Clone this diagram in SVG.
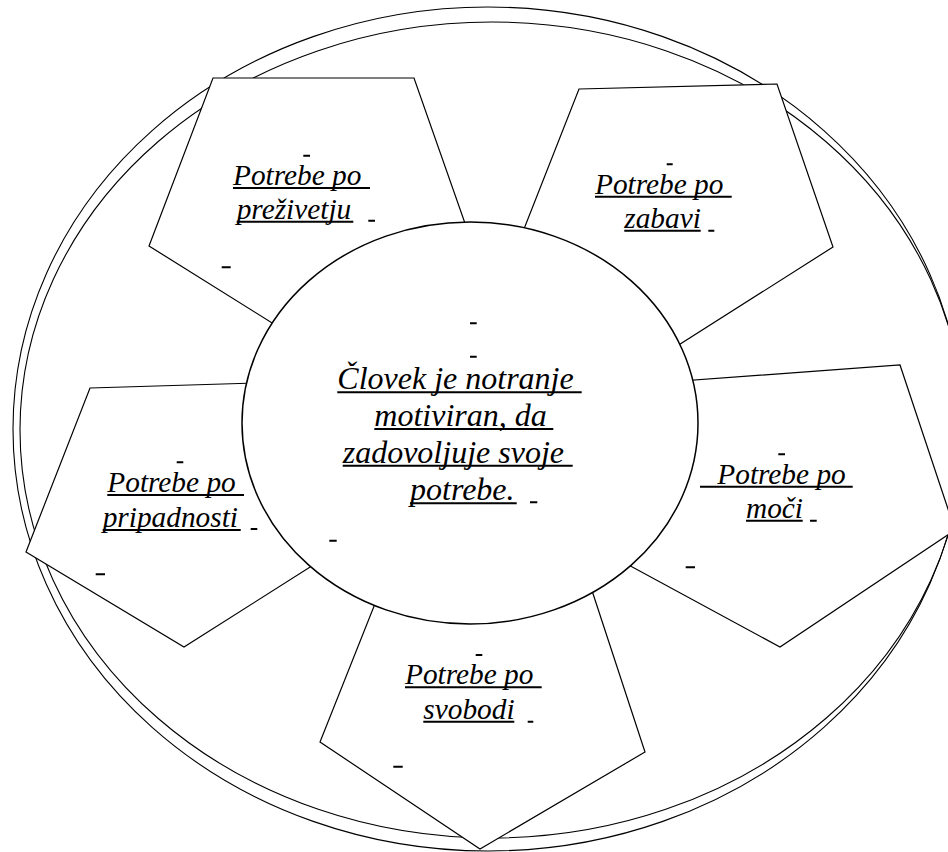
<svg xmlns="http://www.w3.org/2000/svg" width="948" height="852" viewBox="0 0 948 852">
<style>
.ring{fill:none;stroke:#000;stroke-width:1.1}
.pent{fill:#fff;stroke:#000;stroke-width:1.2;stroke-linejoin:miter}
.core{fill:#fff;stroke:#000;stroke-width:1.5}
text{font-family:'Liberation Serif','Times New Roman',serif;font-style:italic;fill:#000}
.s{font-size:29.33px}
.b{font-size:32px}
.ul{stroke:#000;stroke-width:2;fill:none}
</style>
<rect width="948" height="852" fill="#fff"/>
<g id="rings">
<ellipse class="ring" cx="488" cy="429" rx="475" ry="422"/>
<ellipse class="ring" cx="492" cy="430" rx="472" ry="408"/>
</g>
<g id="connectors"></g>
<g id="node-prezivetju">
<polygon class="pent" points="213,78 414,78 480,266 333,361 149,246"/>
<text class="s" x="233" y="185">Potrebe po</text>
<text class="s" x="236.7" y="218.7">preživetju</text>
<path class="ul" d="M233 188H370M236.7 221.7H353.3M303.3 155.7H310M368.3 220.7H375M221.7 267.3H230.7"/>
</g>
<g id="node-zabavi">
<polygon class="pent" points="579,89 777,84 833,247 600,395 500,290"/>
<text class="s" x="595" y="193.7">Potrebe po</text>
<text class="s" x="624.3" y="227.7">zabavi</text>
<path class="ul" d="M595 196.7H731.7M624.3 230.7H700.7M666.7 164.3H672.7M708.3 230.7H714.3"/>
</g>
<g id="node-pripadnosti">
<polygon class="pent" points="90,388 290,382 348,543 184,647 26,552"/>
<text class="s" x="107.3" y="492">Potrebe po</text>
<text class="s" x="102.7" y="527">pripadnosti</text>
<path class="ul" d="M107.3 495H244M102.7 530H240.7M176.7 462.3H183.3M250.7 529H257.3M95.7 574.3H105"/>
</g>
<g id="node-moci">
<polygon class="pent" points="640,384 900,365 955,530 780,647 588,543"/>
<text class="s" x="717.3" y="483.7">Potrebe po</text>
<text class="s" x="746" y="517.7">moči</text>
<path class="ul" d="M700 486.7H852.7M746 520.7H802.7M778.3 454.3H785M810 520.7H816.7M685.7 567.3H695"/>
</g>
<g id="node-svobodi">
<polygon class="pent" points="390,566 577,545 645,752 480,849 320,742"/>
<text class="s" x="405" y="684.3">Potrebe po</text>
<text class="s" x="423.3" y="718.7">svobodi</text>
<path class="ul" d="M405 687.3H541.7M423.3 721.7H514.3M475.7 655H482.3M527.7 721.7H533.3M393.3 766.7H402.7"/>
</g>
<g id="node-center">
<ellipse class="core" cx="470" cy="423" rx="228" ry="201"/>
<text class="b" x="337.3" y="389.3">Človek je notranje</text>
<text class="b" x="374.3" y="426">motiviran, da</text>
<text class="b" x="342.7" y="462.7">zadovoljuje svoje</text>
<text class="b" x="410" y="500.3">potrebe.</text>
<path class="ul" d="M337.3 392.3H581.7M374.3 429H553.3M342.7 465.7H572.7M410 503.3H516.7M470 323.3H476.7M470 356.7H476.7M530 502.3H537.3M329.3 540.7H336.7"/>
</g>
</svg>
